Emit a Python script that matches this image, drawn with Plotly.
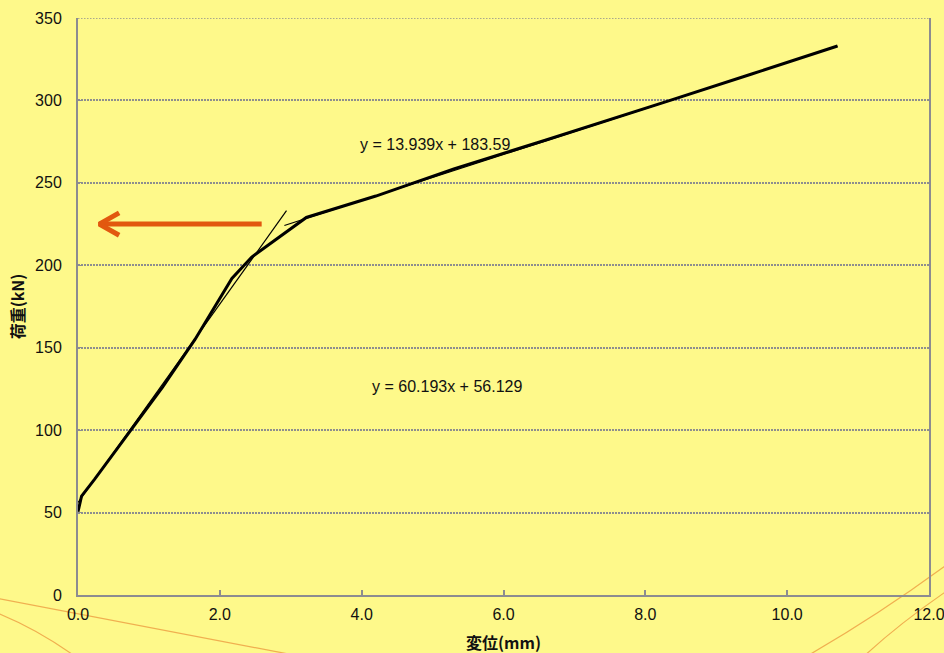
import plotly.graph_objects as go

# ---- data ----
disp_mm = [0.0, 0.05, 0.23, 0.75, 1.19, 1.65, 2.17, 2.45, 2.8, 3.22, 4.2, 5.3, 6.6, 7.3, 8.35, 9.5, 10.71]
load_kN = [50.5, 60, 70, 100, 126, 155, 192, 205, 216, 229, 242, 258.5, 276, 285.5, 300, 316, 333]

fit1_slope, fit1_icpt = 60.193, 56.129
fit1_range = [0.0, 2.94]
fit2_slope, fit2_icpt = 13.939, 183.59
fit2_range = [2.91, 10.71]

x_ticks = [0, 2, 4, 6, 8, 10, 12]
x_ticklabels = ["0.0", "2.0", "4.0", "6.0", "8.0", "10.0", "12.0"]
y_ticks = [0, 50, 100, 150, 200, 250, 300, 350]
x_title = "<b>変位(mm)</b>"
y_title = "<b>荷重(kN)</b>"

# arrow (annotation) in data units
arrow_tip = (0.3, 225)
arrow_tail_x = 2.59
arrow_arm = (0.28, 6.8)

BG = "#FEF98A"
AXIS = "#8C8C90"
GRID = "#8E8E8E"
font_lat = "Liberation Sans, Arial, sans-serif"
font_jp = "Noto Sans CJK JP, sans-serif"

W, H = 944, 653
ML, MR, MT, MB = 78, 15, 18, 58
PW, PH = W - ML - MR, H - MT - MB

fig = go.Figure()

# trend lines (thin)
for s, b, r in [(fit1_slope, fit1_icpt, fit1_range), (fit2_slope, fit2_icpt, fit2_range)]:
    fig.add_trace(go.Scatter(x=r, y=[s * v + b for v in r], mode="lines",
                             line=dict(color="black", width=1.2), showlegend=False,
                             hoverinfo="skip"))

# measured curve
fig.add_trace(go.Scatter(x=disp_mm, y=load_kN, mode="lines",
                         line=dict(color="black", width=3), showlegend=False))

# orange arrow
tx, ty = arrow_tip
ax_, ay_ = arrow_arm
fig.add_trace(go.Scatter(x=[tx, arrow_tail_x], y=[ty, ty], mode="lines",
                         line=dict(color="#E2580F", width=5), showlegend=False, hoverinfo="skip"))
fig.add_trace(go.Scatter(x=[tx + ax_, tx, tx + ax_], y=[ty + ay_, ty, ty - ay_], mode="lines",
                         line=dict(color="#E2580F", width=5), showlegend=False, hoverinfo="skip"))

# equation labels
fig.add_annotation(x=5.04, y=273.5, text="y = 13.939x + 183.59", showarrow=False,
                   font=dict(family=font_lat, size=16, color="#111"))
fig.add_annotation(x=5.2, y=126.5, text="y = 60.193x + 56.129", showarrow=False,
                   font=dict(family=font_lat, size=16, color="#111"))

# x-axis title as annotation below the tick labels
fig.add_annotation(x=0.5, xref="paper", y=-(642 - (H - MB)) / PH, yref="paper",
                   text=x_title, showarrow=False, yanchor="middle",
                   font=dict(family=font_jp, size=16, color="#111"))

# top dotted border (gridline at the axis maximum)
fig.add_shape(type="line", xref="x domain", yref="y", x0=0, x1=1, y0=y_ticks[-1], y1=y_ticks[-1],
              line=dict(color=GRID, width=1.5, dash="1.5px,1.5px"))


# decorative orange arcs (background ornament), given in page pixels
def px2paper(px, py):
    return (px - ML) / PW, (H - MB - py) / PH


arc_px = [
    [(-5, 598), (150, 628), (320, 660)],
    [(-5, 612), (40, 630), (80, 660)],
    [(960, 555), (880, 615), (800, 660)],
    [(960, 582), (900, 622), (860, 660)],
]
for pts in arc_px:
    (x0, y0), (x1, y1), (x2, y2) = [px2paper(*p) for p in pts]
    path = f"M {x0} {y0} Q {x1} {y1} {x2} {y2}"
    fig.add_shape(type="path", path=path, xref="paper", yref="paper",
                  line=dict(color="rgba(235,150,60,0.75)", width=1.2), layer="below")

fig.update_layout(
    width=W, height=H,
    margin=dict(l=ML, r=MR, t=MT, b=MB, autoexpand=False),
    paper_bgcolor=BG, plot_bgcolor=BG,
    showlegend=False,
    xaxis=dict(range=[0, 12], tickvals=x_ticks, ticktext=x_ticklabels, automargin=False,
               showgrid=False, zeroline=False, showline=True, linecolor=AXIS, linewidth=2,
               ticks="inside", ticklen=5, tickcolor=AXIS, tickwidth=1.5,
               tickfont=dict(family=font_lat, size=16, color="#111"),
               ticklabelstandoff=4, ticklabeloverflow="allow"),
    yaxis=dict(range=[0, 350], tickvals=y_ticks, automargin=False,
               showgrid=True, gridcolor=GRID, griddash="1.5px,1.5px", gridwidth=1.5,
               zeroline=False, showline=True, linecolor=AXIS, linewidth=2, mirror=True,
               ticks="inside", ticklen=4, tickcolor=AXIS,
               tickfont=dict(family=font_lat, size=16, color="#111"),
               ticklabelstandoff=11, ticklabeloverflow="allow",
               title=dict(text=y_title, font=dict(family=font_jp, size=16, color="#111"),
                          standoff=6)),
)

fig.write_html("out.html", config={"displayModeBar": False},
               post_script="document.body.style.margin='0';document.body.style.background='%s';" % BG)
